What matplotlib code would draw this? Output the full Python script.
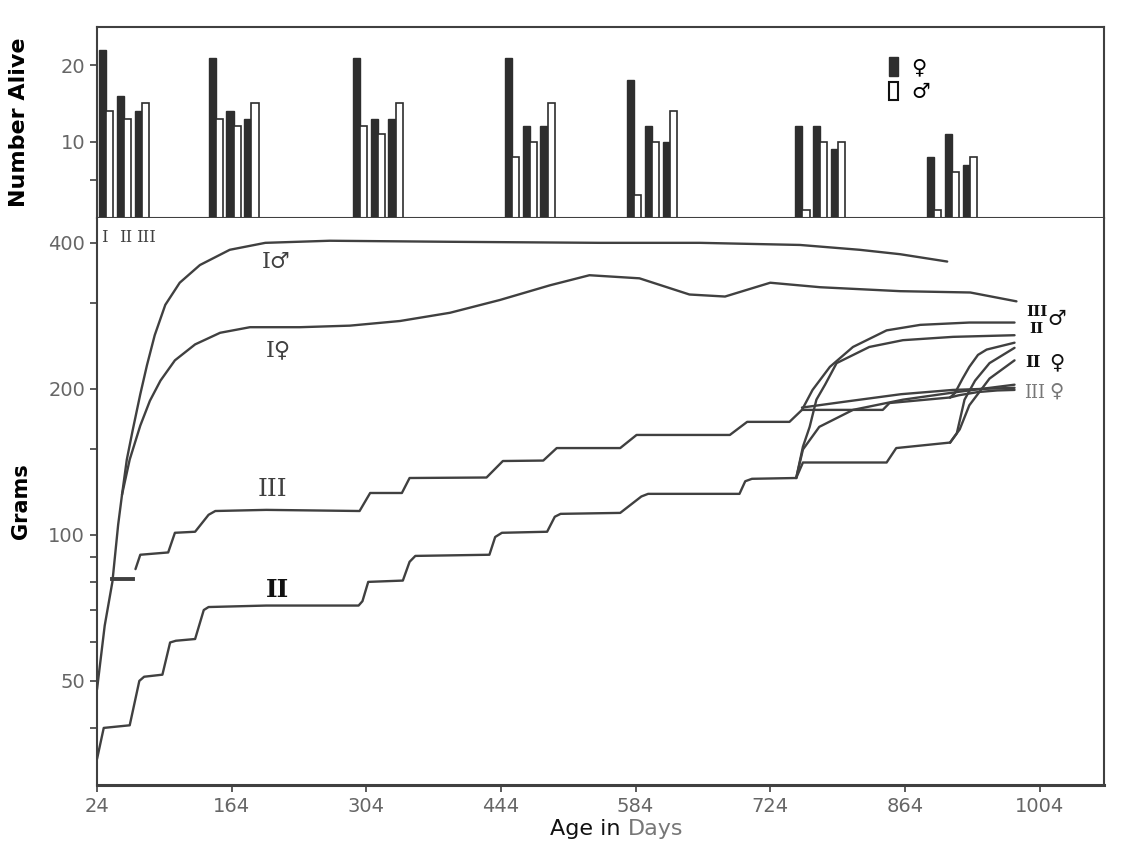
import numpy as np
import matplotlib
matplotlib.use("Agg")
import matplotlib.pyplot as plt
from matplotlib.patches import Patch

nan = np.nan

# ages (days) at which the survivors were counted, and the counts
census_days = [26, 140, 290, 448, 575, 750, 887]
alive_I_f = [22, 21, 21, 21, 18, 12, 8]
alive_I_m = [14, 13, 12, 8, 3, 1, 1]
alive_II_f = [16, 14, 13, 12, 12, 12, 11]
alive_II_m = [13, 12, 11, 10, 10, 10, 6]
alive_III_f = [14, 13, 13, 12, 10, 9, 7]
alive_III_m = [15, 15, 15, 15, 14, 10, 8]

# body weight (grams) against age (days)
I_start_days = [24, 32, 40, 46, 50]
I_start_g = [48, 65, 80, 105, 121]
I_m_days = [50, 55, 61, 69, 76, 84, 95, 110, 131, 162, 199, 266, 391, 547, 651, 755, 817, 859, 908]
I_m_g = [121, 143, 164, 195, 224, 258, 298, 331, 360, 387, 400, 404, 402, 400, 400, 396, 387, 379, 366]
I_f_days = [50, 58, 69, 79, 90, 105, 126, 152, 183, 235, 287, 339, 391, 443, 495, 536, 588, 640, 677,
            724, 776, 859, 932, 980]
I_f_g = [121, 143, 168, 189, 208, 229, 247, 261, 268, 268, 270, 276, 287, 305, 327, 343, 338, 313, 310,
         331, 324, 318, 316, 303]

II_days = [24, 31, 58, 68, 73, 92, 100, 106, 126, 135, 140, 200, 296, 300, 306, 342, 349, 355, 432, 438,
           445, 492, 500, 506, 568, 590, 597, 692, 698, 705, 751]
II_g = [34.5, 40, 40.5, 50, 51, 51.5, 60, 60.5, 61, 70, 71, 71.5, 71.5, 73, 80, 80.5, 88, 90.5, 91, 99,
        101, 101.5, 109, 110.5, 111, 120, 121.5, 121.5, 129, 130.5, 131]

III_days = [40, 61, nan, 64, 69, 98, 105, 126, 140, 147, 200, 297, 308, 341, 349, 429, 446, 488, 502, 568,
            585, 682, 700, 744, 757]
III_g = [81, 81, nan, 85, 91, 92, 101, 101.5, 110, 112, 112.6, 112, 122, 122, 131, 131.3, 142, 142.3, 151,
         151, 160.7, 160.7, 171, 171, 181]

# groups II and III after the restriction was lifted
III_m_rel_days = [757, 768, 786, 810, 845, 880, 931, 978]
III_m_rel_g = [181, 199, 222, 244, 264, 271, 274, 274]
III_f_rel_days = [757, 800, 860, 914, 978]
III_f_rel_g = [183, 188, 195, 199, 201]
III_late_days = [757, 841, 848, 911]
III_late_g = [181, 181, 187, 192]
III_m_late_days = [911, 916, 924, 931, 940, 949, 978]
III_m_late_g = [192, 196, 210, 222, 235, 241, 249]
III_f_late_days = [911, 920, 940, 960, 978]
III_f_late_g = [192, 194, 197, 198.5, 199]

II_m_rel_days = [751, 758, 765, 772, 781, 793, 827, 862, 914, 978]
II_m_rel_g = [131, 152, 167, 190, 204, 226, 244, 252, 256, 258]
II_f_rel_days = [751, 758, 775, 810, 862, 918, 978]
II_f_rel_g = [131, 150, 167, 181, 190, 197, 204]
II_late_days = [751, 758, 845, 855, 911]
II_late_g = [131, 141, 141, 151, 155]
II_m_late_days = [911, 918, 926, 937, 952, 978]
II_m_late_g = [155, 162, 190, 208, 226, 243]
II_f_late_days = [911, 921, 931, 952, 978]
II_f_late_g = [155, 165, 185, 210, 229]

x_ticks = [24, 164, 304, 444, 584, 724, 864, 1004]
g_ticks = [50, 100, 200, 400]

INK = '#404040'
DARK = '#2e2e2e'
TICK = '#666666'
XMIN, XMAX = 24, 1071

fig = plt.figure(figsize=(11.28, 8.52), dpi=100)
ax_top = fig.add_axes([0.0860, 0.7441, 0.8927, 0.2242])
ax = fig.add_axes([0.0860, 0.0786, 0.8927, 0.6655])

# ---- number alive ----
bar_w = 7.5
pair_step = 18.5
pairs = [(alive_I_f, alive_I_m), (alive_II_f, alive_II_m), (alive_III_f, alive_III_m)]
for k, (fem, mal) in enumerate(pairs):
    left = np.array(census_days) + k * pair_step
    ax_top.bar(left, fem, width=bar_w, align='edge', color=DARK, edgecolor=DARK, lw=1)
    ax_top.bar(left + bar_w, mal, width=bar_w, align='edge', color='white', edgecolor=DARK, lw=1.2)

ax_top.set_xlim(XMIN, XMAX)
ax_top.set_ylim(0, 25)
ax_top.set_xticks([])
ax_top.set_yticks([10, 20])
ax_top.set_yticks([5], minor=True)
ax_top.tick_params(axis='y', which='both', direction='out', length=5, width=1.2, color=INK,
                   labelsize=14, labelcolor=TICK)
for sp in ax_top.spines.values():
    sp.set_color(INK)
    sp.set_linewidth(1.5)
ax_top.set_ylabel('Number Alive', fontsize=16, fontweight='bold')
ax_top.yaxis.set_label_coords(-0.068, 0.5)

ax_top.legend(handles=[Patch(facecolor=DARK, edgecolor=DARK),
                       Patch(facecolor='white', edgecolor='#111111', lw=1.5)],
              labels=['\u2640', '\u2642'], loc='upper left', bbox_to_anchor=(0.768, 0.94),
              frameon=False, handlelength=0.45, handleheight=1.0, handletextpad=0.6,
              labelspacing=0.2, fontsize=15)

# ---- weights ----
ax.set_yscale('log')
line_kw = dict(color=INK, lw=1.7, solid_capstyle='round')
ax.plot(I_start_days + I_m_days, I_start_g + I_m_g, **line_kw)
ax.plot(I_f_days, I_f_g, **line_kw)
ax.plot(II_days, II_g, **line_kw)
ax.plot(III_days[:2], III_g[:2], color=INK, lw=2.8)
ax.plot(III_days[3:], III_g[3:], **line_kw)
for d, g in [(III_m_rel_days, III_m_rel_g), (III_f_rel_days, III_f_rel_g),
             (III_late_days, III_late_g), (III_m_late_days, III_m_late_g),
             (III_f_late_days, III_f_late_g), (II_m_rel_days, II_m_rel_g),
             (II_f_rel_days, II_f_rel_g), (II_late_days, II_late_g),
             (II_m_late_days, II_m_late_g), (II_f_late_days, II_f_late_g)]:
    ax.plot(d, g, **line_kw)

ax.set_xlim(XMIN, XMAX)
ax.set_ylim(30.5, 450)
ax.set_xticks(x_ticks)
ax.set_xticklabels([str(t) for t in x_ticks])
ax.set_yticks(g_ticks)
ax.set_yticklabels([str(t) for t in g_ticks])
ax.set_yticks([40, 60, 70, 80, 90, 150, 300], minor=True)
ax.set_yticklabels([], minor=True)
ax.tick_params(which='both', direction='out', length=5, width=1.2, color=INK,
               labelsize=14, labelcolor=TICK)
ax.spines['top'].set_visible(False)
for name in ['left', 'right', 'bottom']:
    ax.spines[name].set_color(INK)
    ax.spines[name].set_linewidth(1.5)
ax.spines['bottom'].set_linewidth(2.2)
ax.set_ylabel('Grams', fontsize=15, fontweight='bold')
ax.yaxis.set_label_coords(-0.066, 0.5)

serif = ['DejaVu Serif', 'DejaVu Sans']
ax.text(210, 365, 'I\u2642', fontsize=16, family=serif, color=INK, ha='center', va='center')
ax.text(213, 240, 'I\u2640', fontsize=16, family=serif, color=INK, ha='center', va='center')
ax.text(206, 124, 'III', fontsize=18, family=serif, color=INK, ha='center', va='center')
ax.text(212, 77, 'II', fontsize=18, family=serif, fontweight='bold', color='#111111',
        ha='center', va='center')

# group numerals under the first census bars
for k, name in enumerate(['I', 'II', 'III']):
    ax.text(census_days[0] + k * pair_step + 2, 0.965, name, transform=ax.get_xaxis_transform(),
            fontsize=12, family=serif, color=INK, ha='left', va='center')

# end-of-curve labels
ax.text(1001, 288, 'III', fontsize=11, family=serif, fontweight='bold', color='#111111',
        ha='center', va='center')
ax.text(1001, 266, 'II', fontsize=11, family=serif, fontweight='bold', color='#111111',
        ha='center', va='center')
ax.text(1022, 279, '\u2642', fontsize=15, color='#111111', ha='center', va='center')
ax.text(997, 227, 'II', fontsize=12, family=serif, fontweight='bold', color='#111111',
        ha='center', va='center')
ax.text(1022, 227, '\u2640', fontsize=15, color='#111111', ha='center', va='center')
ax.text(999, 196, 'III', fontsize=13, family=serif, color='#777777', ha='center', va='center')
ax.text(1022, 198, '\u2640', fontsize=14, color='#777777', ha='center', va='center')

fig.text(628 / 1128, 1 - 829 / 852, 'Age in ', fontsize=16, color='#111111', ha='right', va='center')
fig.text(628 / 1128, 1 - 829 / 852, 'Days', fontsize=16, color='#777777', ha='left', va='center')

fig.savefig('out.png', dpi=100, facecolor='white')
